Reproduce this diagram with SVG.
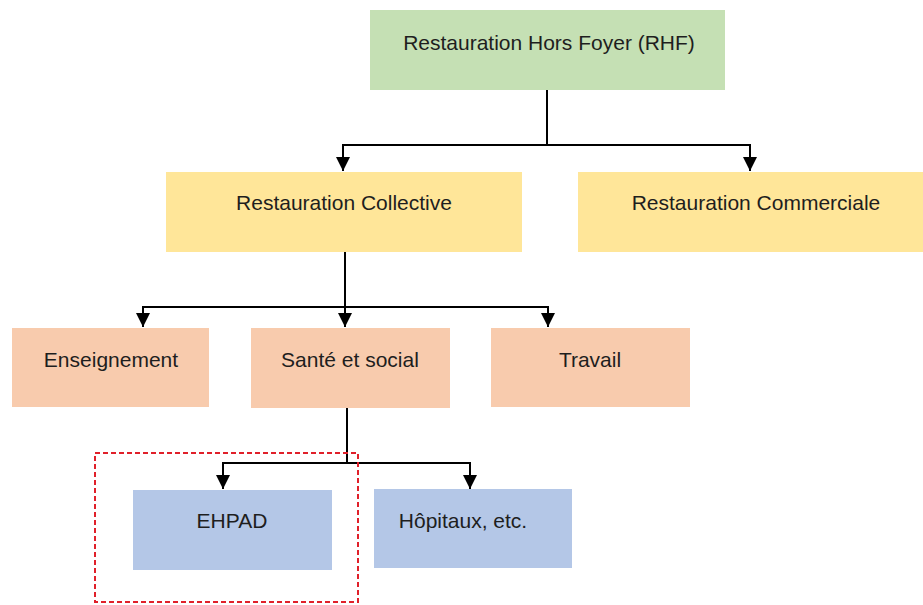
<svg xmlns="http://www.w3.org/2000/svg" width="923" height="605" viewBox="0 0 923 605">
  <style>
    .lbl { font-family: "Liberation Sans", Arial, sans-serif; font-size: 21px; fill: #1e1e1e; text-anchor: middle; }
    .green { fill: #c5e0b4; }
    .yellow { fill: #ffe699; }
    .peach { fill: #f8cbad; }
    .blue { fill: #b4c7e7; }
    .wire { fill: none; stroke: #000000; stroke-width: 2; }
  </style>
  <defs>
    <marker id="arrow" viewBox="0 0 14 14" refX="14" refY="7" markerWidth="14" markerHeight="14" markerUnits="userSpaceOnUse" orient="auto">
      <path d="M0,0 L14,7 L0,14 Z" fill="#000000"/>
    </marker>
  </defs>
  <rect width="923" height="605" fill="#ffffff"/>

  <g id="connectors">
    <path class="wire" d="M547,90 V145"/>
    <path class="wire" d="M547,145 H343 V171" marker-end="url(#arrow)"/>
    <path class="wire" d="M547,145 H750 V171" marker-end="url(#arrow)"/>
    <path class="wire" d="M345,252 V307"/>
    <path class="wire" d="M345,307 H143 V327" marker-end="url(#arrow)"/>
    <path class="wire" d="M345,307 V327" marker-end="url(#arrow)"/>
    <path class="wire" d="M345,307 H548 V327" marker-end="url(#arrow)"/>
    <path class="wire" d="M347,408 V463"/>
    <path class="wire" d="M347,463 H223 V489" marker-end="url(#arrow)"/>
    <path class="wire" d="M347,463 H470 V489" marker-end="url(#arrow)"/>
  </g>

  <g id="rhf">
    <rect class="green" x="370" y="10" width="355" height="80"/>
    <text class="lbl" x="549" y="50">Restauration Hors Foyer (RHF)</text>
  </g>
  <g id="collective">
    <rect class="yellow" x="166" y="172" width="356" height="80"/>
    <text class="lbl" x="344" y="210">Restauration Collective</text>
  </g>
  <g id="commerciale">
    <rect class="yellow" x="578" y="172" width="345" height="80"/>
    <text class="lbl" x="756" y="210">Restauration Commerciale</text>
  </g>
  <g id="enseignement">
    <rect class="peach" x="12" y="328" width="197" height="79"/>
    <text class="lbl" x="111" y="367">Enseignement</text>
  </g>
  <g id="sante">
    <rect class="peach" x="251" y="328" width="199" height="80"/>
    <text class="lbl" x="350" y="367">Santé et social</text>
  </g>
  <g id="travail">
    <rect class="peach" x="491" y="328" width="199" height="79"/>
    <text class="lbl" x="590" y="367">Travail</text>
  </g>
  <g id="ehpad">
    <rect class="blue" x="133" y="490" width="199" height="80"/>
    <text class="lbl" x="232" y="528">EHPAD</text>
  </g>
  <g id="hopitaux">
    <rect class="blue" x="374" y="489" width="198" height="79"/>
    <text class="lbl" x="463" y="528">Hôpitaux, etc.</text>
  </g>
  <g id="highlight">
    <rect x="95" y="453" width="263" height="149" fill="none" stroke="#e0202a" stroke-width="2" stroke-dasharray="5,3"/>
  </g>
</svg>
